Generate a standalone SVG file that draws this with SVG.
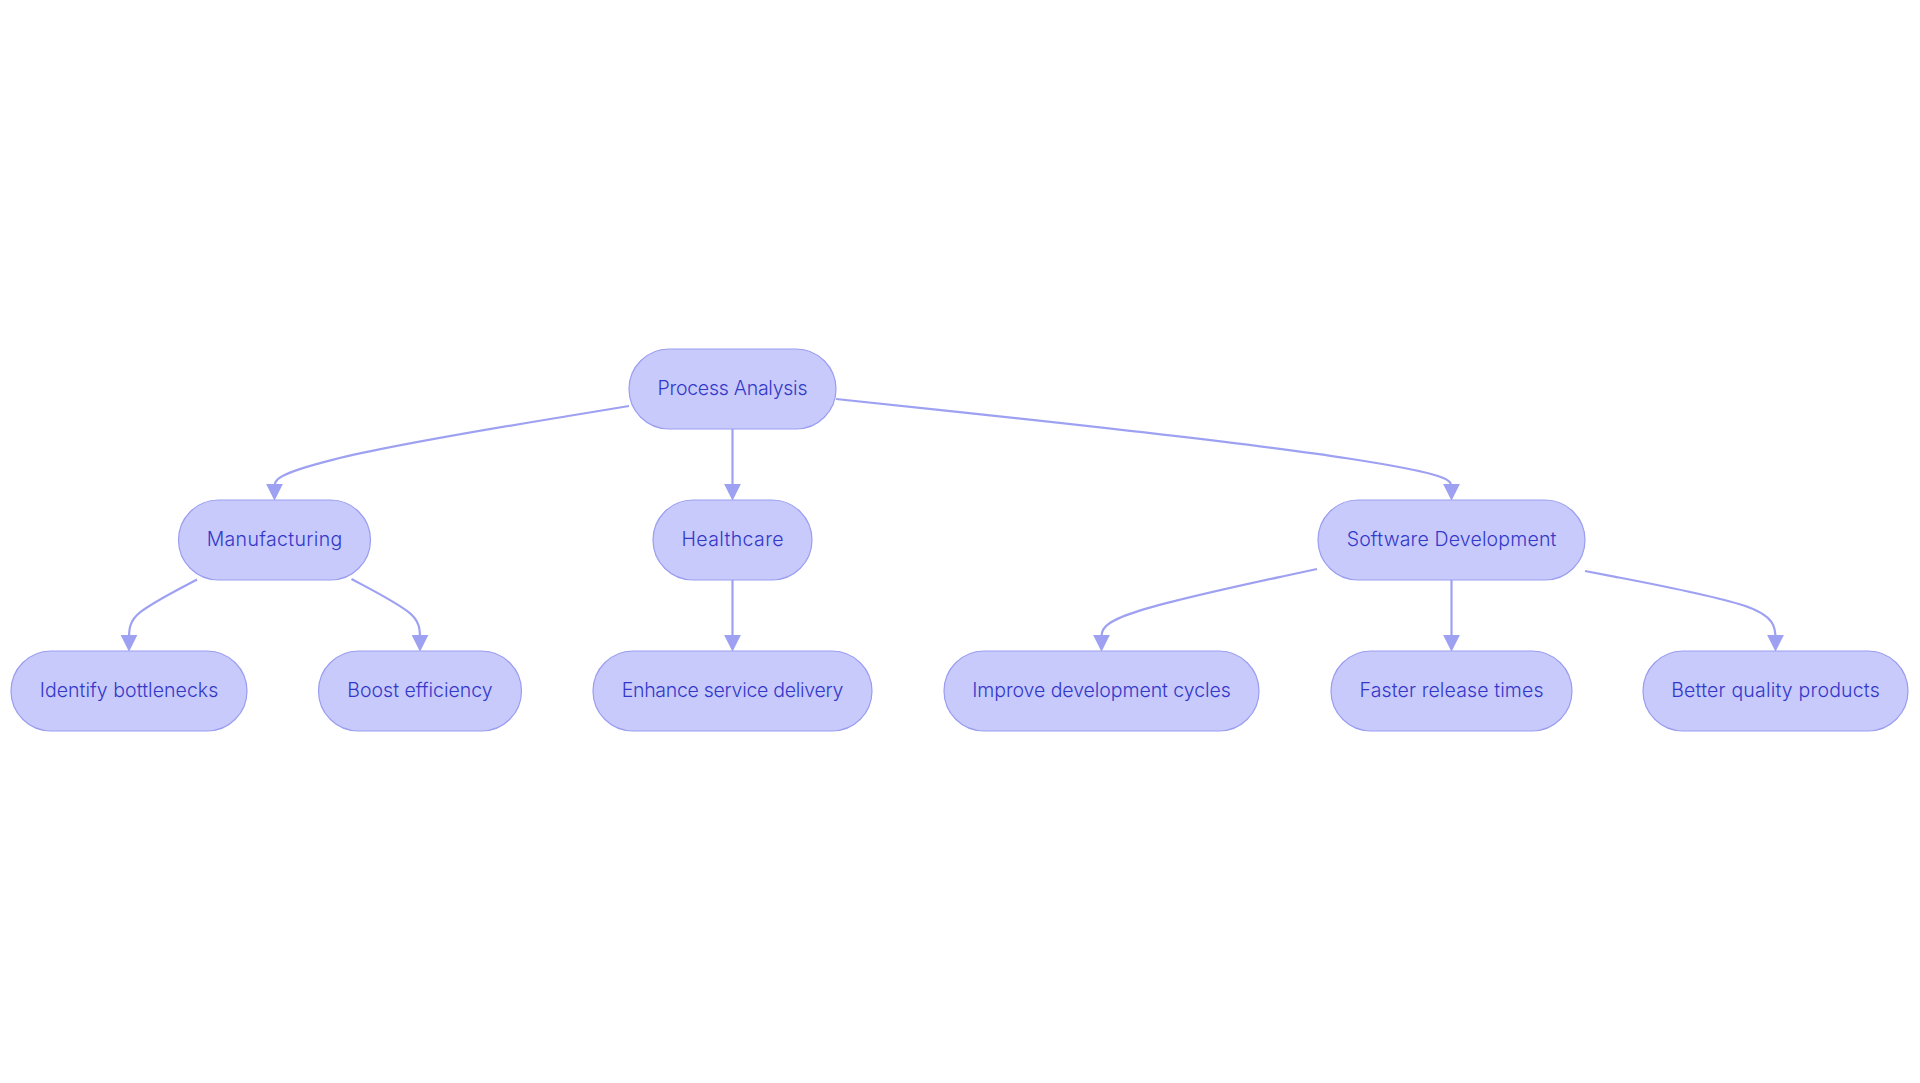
<svg xmlns="http://www.w3.org/2000/svg" width="1920" height="1083" viewBox="0 0 1920 1083">
<style>
.node rect{fill:#c8cafb;stroke:#9a9df0;stroke-width:1.2}
.node text{font-family:Inter,"Noto Sans","Liberation Sans",sans-serif;font-size:19.5px;font-weight:300;fill:#3338c9;text-anchor:middle}
.edge{fill:none;stroke:#9ea1f2;stroke-width:2.2}
</style>
<defs>
<marker id="arr" viewBox="0 0 16 16" markerWidth="17" markerHeight="17" markerUnits="userSpaceOnUse" refX="4" refY="8" orient="auto">
<path d="M0,0 L16,8 L0,16 z" fill="#9ea1f2"/>
</marker>
</defs>
<rect width="1920" height="1083" fill="#ffffff"/>
<g id="connectors">
<path class="edge" marker-end="url(#arr)" d="M629,406 L569.9,415.75 C510.8,425.5 392.3,444.7 333.4,459.6 C274.5,474.5 274.5,480 274.5,488"/>
<path class="edge" marker-end="url(#arr)" d="M732.5,429 L732.5,488"/>
<path class="edge" marker-end="url(#arr)" d="M836,399 L938.6,409.9 C1041.2,420.8 1246,442.7 1348.5,458.5 C1451.5,474.5 1451.5,480 1451.5,488"/>
<path class="edge" marker-end="url(#arr)" d="M197,579.5 L185.7,585.5 C174.3,591.5 151.7,603.5 140.3,612.1 C129,621 129,630 129,639"/>
<path class="edge" marker-end="url(#arr)" d="M351.5,579 L363,585.1 C374.5,591.2 397.2,603.3 408.6,612.1 C420,621 420,630 420,639"/>
<path class="edge" marker-end="url(#arr)" d="M732.5,580 L732.5,639"/>
<path class="edge" marker-end="url(#arr)" d="M1317,569 L1281.1,576.75 C1245.2,584.5 1173.3,600 1137.4,611.4 C1101.5,622.8 1101.5,630 1101.5,639"/>
<path class="edge" marker-end="url(#arr)" d="M1451.5,580 L1451.5,639"/>
<path class="edge" marker-end="url(#arr)" d="M1585,571 L1616.75,577.1 C1648.5,583.2 1712,595.3 1743.75,605.5 C1775.5,616 1775.5,628 1775.5,639"/>
</g>
<g id="n-process" class="node"><rect x="629" y="349" width="207" height="80" rx="40"/><text x="732.5" y="395" textLength="150">Process Analysis</text></g>
<g id="n-manufacturing" class="node"><rect x="178.5" y="500" width="192" height="80" rx="40"/><text x="274.5" y="546" textLength="135.7">Manufacturing</text></g>
<g id="n-healthcare" class="node"><rect x="653" y="500" width="159" height="80" rx="40"/><text x="732.5" y="546" textLength="102">Healthcare</text></g>
<g id="n-software" class="node"><rect x="1318" y="500" width="267" height="80" rx="40"/><text x="1451.5" y="546" textLength="209.7">Software Development</text></g>
<g id="n-identify" class="node"><rect x="11" y="651" width="236" height="80" rx="40"/><text x="129" y="697" textLength="178.6">Identify bottlenecks</text></g>
<g id="n-boost" class="node"><rect x="318.5" y="651" width="203" height="80" rx="40"/><text x="420" y="697" textLength="145.3">Boost efficiency</text></g>
<g id="n-enhance" class="node"><rect x="593" y="651" width="279" height="80" rx="40"/><text x="732.5" y="697" textLength="221.7">Enhance service delivery</text></g>
<g id="n-improve" class="node"><rect x="944" y="651" width="315" height="80" rx="40"/><text x="1101.5" y="697" textLength="258.6">Improve development cycles</text></g>
<g id="n-faster" class="node"><rect x="1331" y="651" width="241" height="80" rx="40"/><text x="1451.5" y="697" textLength="184">Faster release times</text></g>
<g id="n-better" class="node"><rect x="1643" y="651" width="265" height="80" rx="40"/><text x="1775.5" y="697" textLength="208.5">Better quality products</text></g>
</svg>
